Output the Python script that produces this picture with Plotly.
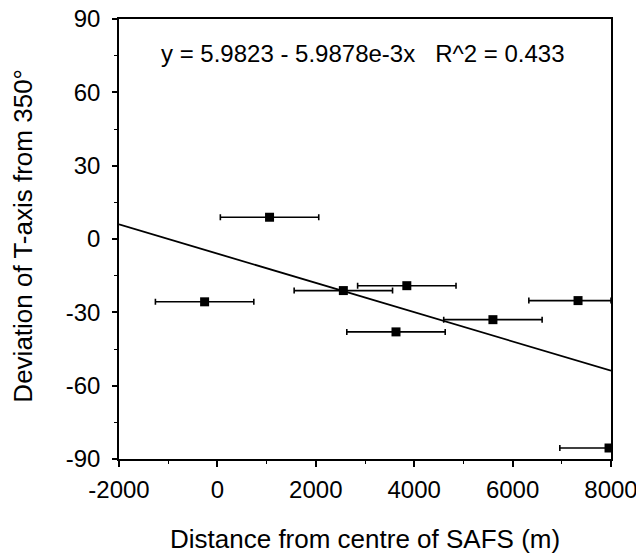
import plotly.graph_objects as go

# Data
distance_m = [1060, -260, 2560, 3850, 7330, 5600, 3630, 7960]
deviation_deg = [8.9, -25.7, -21.1, -19.1, -25.2, -33.0, -38.0, -85.5]
distance_err_plus = [1000, 1000, 1000, 1000, 670, 1000, 1000, 40]
distance_err_minus = [1000, 1000, 1000, 1000, 1000, 1000, 1000, 1000]

# Regression line (as drawn)
fit_x = [-2000, 8000]
fit_intercept = -5.9823
fit_slope = -5.9878e-3
fit_y = [fit_intercept + fit_slope * v for v in fit_x]

x_ticks = [-2000, 0, 2000, 4000, 6000, 8000]
x_tick_labels = ["-2000", "0", "2000", "4000", "6000", "8000"]
y_ticks = [-90, -60, -30, 0, 30, 60, 90]
y_tick_labels = ["-90", "-60", "-30", "0", "30", "60", "90"]
equation_text = "y = 5.9823 - 5.9878e-3x\u00a0\u00a0\u00a0R^2 = 0.433"
x_title = "Distance from centre of SAFS (m)"
y_title = "Deviation of T-axis from 350°"

FONT = "Liberation Sans, Arial, Helvetica, sans-serif"

fig = go.Figure()
fig.add_trace(go.Scatter(
    x=fit_x, y=fit_y, mode="lines",
    line=dict(color="black", width=1.8),
    showlegend=False, hoverinfo="skip",
))
fig.add_trace(go.Scatter(
    x=distance_m, y=deviation_deg, mode="markers",
    marker=dict(symbol="square", size=9, color="black"),
    error_x=dict(type="data", symmetric=False,
                 array=distance_err_plus, arrayminus=distance_err_minus,
                 color="black", thickness=1.6, width=3),
    showlegend=False,
))

fig.add_annotation(
    x=2950, y=76, xref="x", yref="y", text=equation_text,
    showarrow=False, font=dict(family=FONT, size=24, color="black"),
)
fig.add_annotation(
    x=0.5, y=-0.182, xref="paper", yref="paper",
    xanchor="center", yanchor="middle", text=x_title, showarrow=False,
    font=dict(family=FONT, size=26, color="black"),
)
fig.add_annotation(
    x=-0.1957, y=0.507, xref="paper", yref="paper",
    xanchor="center", yanchor="middle", text=y_title, showarrow=False,
    textangle=-90, font=dict(family=FONT, size=26, color="black"),
)

# The page body adds an 8 px margin, so the figure is 8 px smaller than the window
fig.update_layout(
    width=636, height=545,
    margin=dict(l=110.5, r=32.5, t=11.3, b=94, autoexpand=False),
    paper_bgcolor="white", plot_bgcolor="white",
    font=dict(family=FONT, size=24, color="black"),
    xaxis=dict(
        range=[-2000, 8000], tickvals=x_ticks, ticktext=x_tick_labels,
        ticks="outside", ticklen=6, tickwidth=1.5, tickcolor="black",
        minor=dict(dtick=1000, ticks="outside", ticklen=3, tickwidth=1.2, tickcolor="black"),
        showline=True, linecolor="black", linewidth=1.6, mirror=True,
        showgrid=False, zeroline=False, automargin=False,
        tickfont=dict(size=24), ticklabelstandoff=2, ticklabeloverflow="allow",
    ),
    yaxis=dict(
        range=[-90, 90], tickvals=y_ticks, ticktext=y_tick_labels,
        ticks="outside", ticklen=5, tickwidth=1.5, tickcolor="black",
        minor=dict(dtick=15, ticks="outside", ticklen=3, tickwidth=1.2, tickcolor="black"),
        showline=True, linecolor="black", linewidth=1.6, mirror=True,
        showgrid=False, zeroline=False, automargin=False,
        tickfont=dict(size=24), ticklabelstandoff=7, ticklabeloverflow="allow",
    ),
)

fig.write_html("out.html")
